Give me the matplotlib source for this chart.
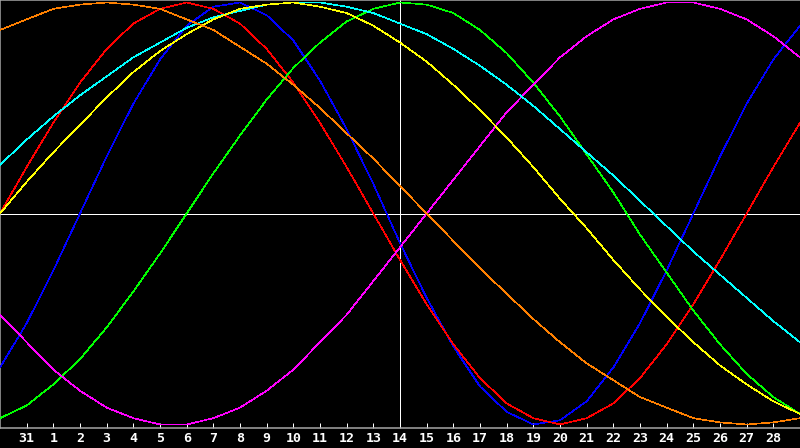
import matplotlib
matplotlib.use("Agg")
import matplotlib.pyplot as plt

# day index 0..30 ; labels on indices 1..29
day_labels = ["31", "1", "2", "3", "4", "5", "6", "7", "8", "9", "10", "11", "12", "13", "14",
              "15", "16", "17", "18", "19", "20", "21", "22", "23", "24", "25", "26", "27", "28"]
today_index = 15

physical = [-0.73, -0.52, -0.27, 0.00, 0.27, 0.52, 0.73, 0.89, 0.98, 1.00, 0.94, 0.82, 0.63, 0.40, 0.14,
            -0.14, -0.40, -0.63, -0.82, -0.94, -1.00, -0.98, -0.89, -0.73, -0.52, -0.27, 0.00, 0.27, 0.52, 0.73, 0.89]
emotional = [0.00, 0.22, 0.43, 0.62, 0.78, 0.90, 0.97, 1.00, 0.97, 0.90, 0.78, 0.62, 0.43, 0.22, 0.00,
             -0.22, -0.43, -0.62, -0.78, -0.90, -0.97, -1.00, -0.97, -0.90, -0.78, -0.62, -0.43, -0.22, 0.00, 0.22, 0.43]
intellectual = [-0.97, -0.91, -0.81, -0.69, -0.54, -0.37, -0.19, 0.00, 0.19, 0.37, 0.54, 0.69, 0.81, 0.91, 0.97,
                1.00, 0.99, 0.95, 0.87, 0.76, 0.62, 0.46, 0.28, 0.10, -0.10, -0.28, -0.46, -0.62, -0.76, -0.87, -0.95]
intuitive = [-0.48, -0.61, -0.74, -0.84, -0.92, -0.97, -1.00, -1.00, -0.97, -0.92, -0.84, -0.74, -0.61, -0.48, -0.32,
             -0.16, 0.00, 0.16, 0.32, 0.48, 0.61, 0.74, 0.84, 0.92, 0.97, 1.00, 1.00, 0.97, 0.92, 0.84, 0.74]
aesthetic = [0.00, 0.15, 0.29, 0.42, 0.55, 0.67, 0.77, 0.85, 0.92, 0.97, 0.99, 1.00, 0.98, 0.95, 0.89,
             0.81, 0.72, 0.61, 0.49, 0.36, 0.22, 0.07, -0.07, -0.22, -0.36, -0.49, -0.61, -0.72, -0.81, -0.89, -0.95]
awareness = [0.87, 0.92, 0.97, 0.99, 1.00, 0.99, 0.97, 0.92, 0.87, 0.79, 0.71, 0.61, 0.50, 0.38, 0.26,
             0.13, 0.00, -0.13, -0.26, -0.38, -0.50, -0.61, -0.71, -0.79, -0.87, -0.92, -0.97, -0.99, -1.00, -0.99, -0.97]
spiritual = [0.23, 0.35, 0.46, 0.56, 0.65, 0.74, 0.81, 0.88, 0.93, 0.96, 0.99, 1.00, 1.00, 0.98, 0.95,
             0.90, 0.85, 0.78, 0.70, 0.61, 0.51, 0.40, 0.29, 0.18, 0.06, -0.06, -0.18, -0.29, -0.40, -0.51, -0.61]

series = [
    (physical, "#0000ff"),
    (emotional, "#ff0000"),
    (intellectual, "#00ff00"),
    (intuitive, "#ff00ff"),
    (spiritual, "#00ffff"),
    (aesthetic, "#ffff00"),
    (awareness, "#ff8000"),
]

W, H, DPI = 800, 448, 100
fig = plt.figure(figsize=(W / DPI, H / DPI), dpi=DPI, facecolor="black")
axis_px = 428.0
ax = fig.add_axes([0, (H - axis_px) / H, 1, axis_px / H])
ax.set_facecolor("black")

zero_px = 213.5
amp = 211.0
ax.set_xlim(0, 30)
ax.set_ylim(-(axis_px - zero_px) / amp, zero_px / amp)

days = list(range(len(physical)))
px = 72.0 / DPI
for vals, col in series:
    ax.plot(days, vals, color=col, lw=0.62 * px, antialiased=False, zorder=3)

ax.axhline(0, color="white", lw=px, antialiased=False, zorder=2)
ax.axvline(today_index, color="white", lw=px, antialiased=False, zorder=2)

ax.spines["right"].set_visible(False)
for s in ["top", "left", "bottom"]:
    ax.spines[s].set_color("#a8a8a8")
    ax.spines[s].set_linewidth(1.5 * px)

ax.set_yticks([])
ax.set_xticks(list(range(1, 1 + len(day_labels))))
ax.set_xticklabels(day_labels, fontfamily="DejaVu Sans Mono", fontweight="bold", fontsize=9.5, color="white")
ax.tick_params(axis="x", direction="in", length=3.6, width=px, color="white", pad=3)

fig.savefig("out.png", dpi=DPI, facecolor="black")
